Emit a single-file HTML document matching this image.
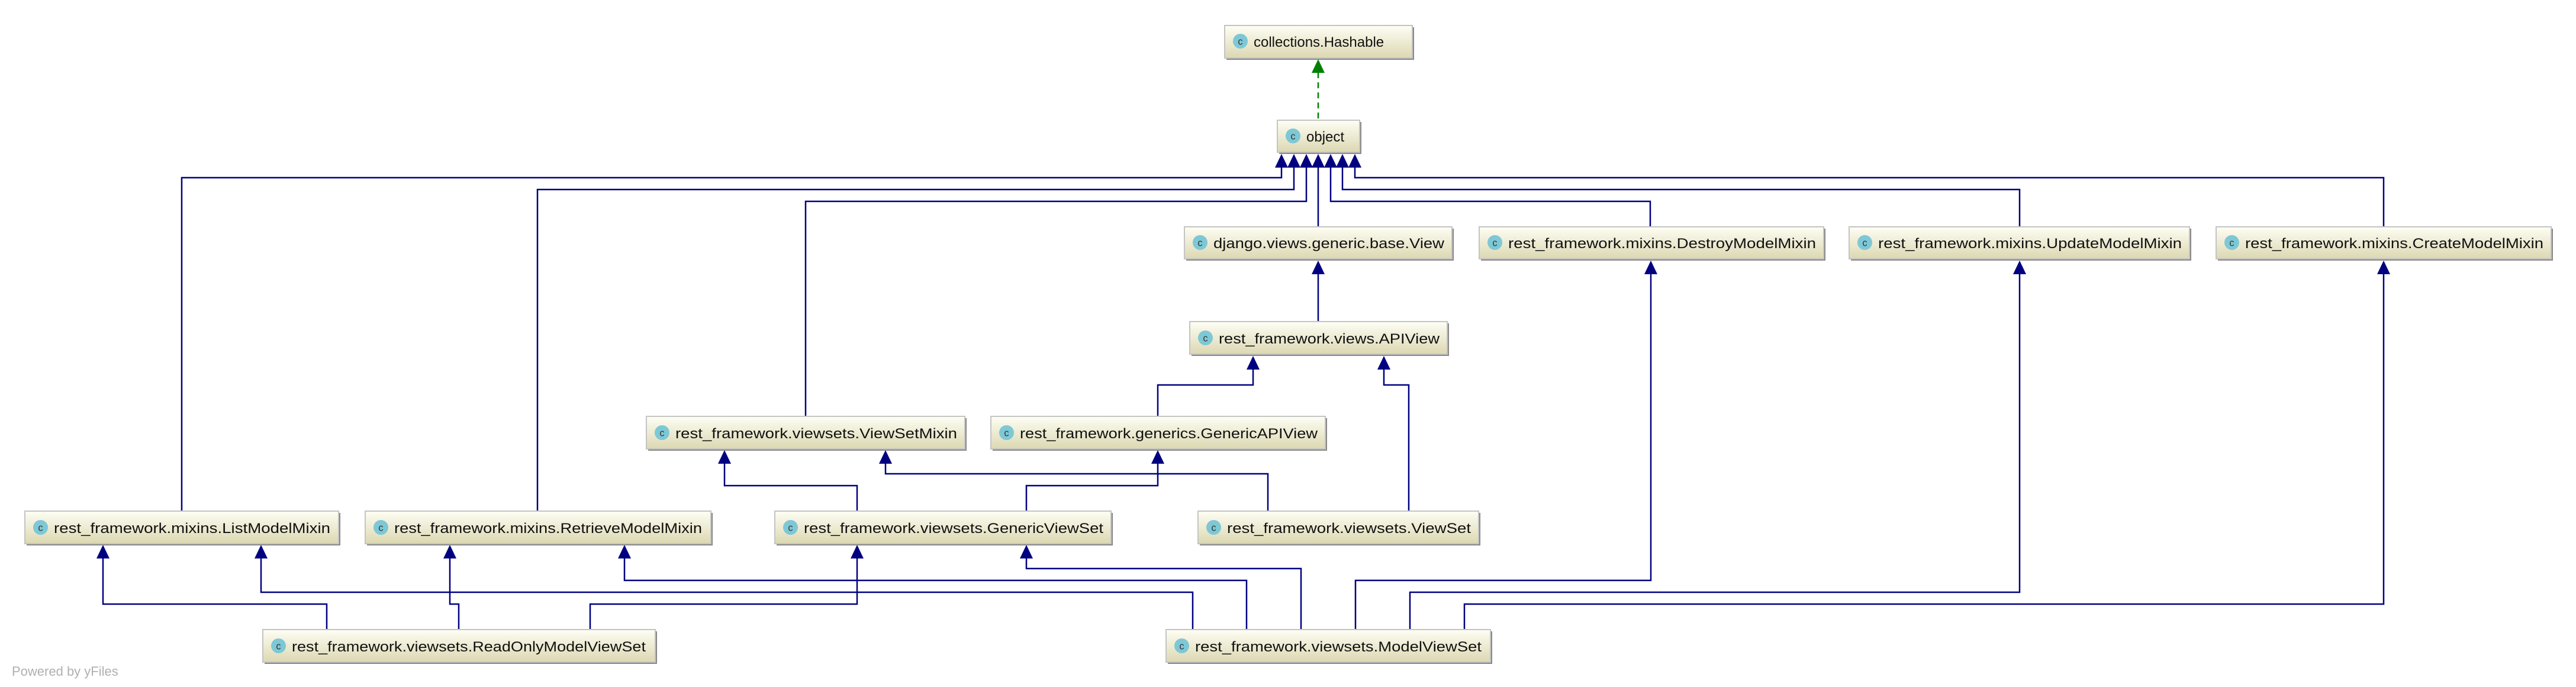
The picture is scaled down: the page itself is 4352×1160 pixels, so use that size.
<!DOCTYPE html>
<html><head><meta charset="utf-8"><style>
html,body{margin:0;padding:0;background:#fff;width:4352px;height:1160px;overflow:hidden}
svg{display:block}
text{font-family:"Liberation Sans","DejaVu Sans",sans-serif}
</style></head><body>
<svg width="4352" height="1160" viewBox="0 0 4352 1160" xmlns="http://www.w3.org/2000/svg">
<defs>
<linearGradient id="g" x1="0" y1="0" x2="0" y2="1">
<stop offset="0" stop-color="#fefef4"/><stop offset="1" stop-color="#dcd8b2"/>
</linearGradient>
<symbol id="ic" viewBox="0 0 28 28"><circle cx="14" cy="14" r="13" fill="#7ec8d6"/><text x="14" y="20" font-size="17" text-anchor="middle" fill="#333">c</text></symbol>
</defs>
<g fill="none" stroke="#000080" stroke-width="2.5">
<polyline points="307,863 307,300 2165,300 2165,282"/>
<polyline points="908,863 908,320 2186,320 2186,282"/>
<polyline points="1361,703 1361,340 2207,340 2207,282"/>
<polyline points="2227,383 2227,282"/>
<polyline points="2788,383 2788,340 2248,340 2248,282"/>
<polyline points="3412,383 3412,320 2268,320 2268,282"/>
<polyline points="4027,383 4027,300 2289,300 2289,282"/>
<polyline points="2227,543 2227,462"/>
<polyline points="1956,703 1956,650 2117,650 2117,623"/>
<polyline points="2380,863 2380,650 2338,650 2338,623"/>
<polyline points="1448,863 1448,820 1224,820 1224,782"/>
<polyline points="1734,863 1734,820 1956,820 1956,782"/>
<polyline points="2142,863 2142,800 1496,800 1496,782"/>
<polyline points="552,1063 552,1020 174,1020 174,942"/>
<polyline points="775,1063 775,1020 760,1020 760,942"/>
<polyline points="997,1063 997,1020 1448,1020 1448,942"/>
<polyline points="2015,1063 2015,1000 441,1000 441,942"/>
<polyline points="2106,1063 2106,980 1055,980 1055,942"/>
<polyline points="2198,1063 2198,960 1734,960 1734,942"/>
<polyline points="2290,1063 2290,980 2789,980 2789,462"/>
<polyline points="2382,1063 2382,1000 3412,1000 3412,462"/>
<polyline points="2474,1063 2474,1020 4027,1020 4027,462"/>
</g>
<g fill="#000080">
<polygon points="2154,283 2176,283 2165,260"/>
<polygon points="2175,283 2197,283 2186,260"/>
<polygon points="2196,283 2218,283 2207,260"/>
<polygon points="2216,283 2238,283 2227,260"/>
<polygon points="2237,283 2259,283 2248,260"/>
<polygon points="2257,283 2279,283 2268,260"/>
<polygon points="2278,283 2300,283 2289,260"/>
<polygon points="2216,463 2238,463 2227,440"/>
<polygon points="2106,624 2128,624 2117,601"/>
<polygon points="2327,624 2349,624 2338,601"/>
<polygon points="1213,783 1235,783 1224,760"/>
<polygon points="1485,783 1507,783 1496,760"/>
<polygon points="1945,783 1967,783 1956,760"/>
<polygon points="163,943 185,943 174,920"/>
<polygon points="430,943 452,943 441,920"/>
<polygon points="749,943 771,943 760,920"/>
<polygon points="1044,943 1066,943 1055,920"/>
<polygon points="1437,943 1459,943 1448,920"/>
<polygon points="1723,943 1745,943 1734,920"/>
<polygon points="2778,463 2800,463 2789,440"/>
<polygon points="3401,463 3423,463 3412,440"/>
<polygon points="4016,463 4038,463 4027,440"/>
</g>
<line x1="2227" y1="200" x2="2227" y2="122" stroke="#008000" stroke-width="2.5" stroke-dasharray="10,7"/>
<polygon points="2216,123 2238,123 2227,100" fill="#008000"/>
<g id="boxes">
<g font-size="24" fill="#111">
<!-- box template: shadow, body, icon, text -->
<rect x="2072" y="46" width="317" height="55" fill="#888"/><rect x="2069" y="43" width="317" height="55" fill="url(#g)" stroke="#c4c4c4" stroke-width="2"/><use href="#ic" x="2082" y="56" width="27" height="27"/><text x="2118" y="79">collections.Hashable</text>
<rect x="2161" y="206" width="139" height="54" fill="#888"/><rect x="2158" y="203" width="139" height="54" fill="url(#g)" stroke="#c4c4c4" stroke-width="2"/><use href="#ic" x="2171" y="216" width="27" height="27"/><text x="2207" y="239">object</text>
<rect x="2004" y="386" width="452" height="54" fill="#888"/><rect x="2001" y="383" width="452" height="54" fill="url(#g)" stroke="#c4c4c4" stroke-width="2"/><use href="#ic" x="2014" y="396" width="27" height="27"/><text x="2050" y="419" textLength="390" lengthAdjust="spacingAndGlyphs">django.views.generic.base.View</text>
<rect x="2502" y="386" width="582" height="54" fill="#888"/><rect x="2499" y="383" width="582" height="54" fill="url(#g)" stroke="#c4c4c4" stroke-width="2"/><use href="#ic" x="2512" y="396" width="27" height="27"/><text x="2548" y="419" textLength="520" lengthAdjust="spacingAndGlyphs">rest_framework.mixins.DestroyModelMixin</text>
<rect x="3127" y="386" width="575" height="54" fill="#888"/><rect x="3124" y="383" width="575" height="54" fill="url(#g)" stroke="#c4c4c4" stroke-width="2"/><use href="#ic" x="3137" y="396" width="27" height="27"/><text x="3173" y="419" textLength="513" lengthAdjust="spacingAndGlyphs">rest_framework.mixins.UpdateModelMixin</text>
<rect x="3747" y="386" width="566" height="54" fill="#888"/><rect x="3744" y="383" width="566" height="54" fill="url(#g)" stroke="#c4c4c4" stroke-width="2"/><use href="#ic" x="3757" y="396" width="27" height="27"/><text x="3793" y="419" textLength="504" lengthAdjust="spacingAndGlyphs">rest_framework.mixins.CreateModelMixin</text>
<rect x="2013" y="546" width="435" height="55" fill="#888"/><rect x="2010" y="543" width="435" height="55" fill="url(#g)" stroke="#c4c4c4" stroke-width="2"/><use href="#ic" x="2023" y="557" width="27" height="27"/><text x="2059" y="580" textLength="373" lengthAdjust="spacingAndGlyphs">rest_framework.views.APIView</text>
<rect x="1095" y="706" width="538" height="55" fill="#888"/><rect x="1092" y="703" width="538" height="55" fill="url(#g)" stroke="#c4c4c4" stroke-width="2"/><use href="#ic" x="1105" y="717" width="27" height="27"/><text x="1141" y="740" textLength="476" lengthAdjust="spacingAndGlyphs">rest_framework.viewsets.ViewSetMixin</text>
<rect x="1677" y="706" width="565" height="55" fill="#888"/><rect x="1674" y="703" width="565" height="55" fill="url(#g)" stroke="#c4c4c4" stroke-width="2"/><use href="#ic" x="1687" y="717" width="27" height="27"/><text x="1723" y="740" textLength="503" lengthAdjust="spacingAndGlyphs">rest_framework.generics.GenericAPIView</text>
<rect x="45" y="866" width="530" height="55" fill="#888"/><rect x="42" y="863" width="530" height="55" fill="url(#g)" stroke="#c4c4c4" stroke-width="2"/><use href="#ic" x="55" y="877" width="27" height="27"/><text x="91" y="900" textLength="467" lengthAdjust="spacingAndGlyphs">rest_framework.mixins.ListModelMixin</text>
<rect x="620" y="866" width="584" height="55" fill="#888"/><rect x="617" y="863" width="584" height="55" fill="url(#g)" stroke="#c4c4c4" stroke-width="2"/><use href="#ic" x="630" y="877" width="27" height="27"/><text x="666" y="900" textLength="520" lengthAdjust="spacingAndGlyphs">rest_framework.mixins.RetrieveModelMixin</text>
<rect x="1312" y="866" width="568" height="55" fill="#888"/><rect x="1309" y="863" width="568" height="55" fill="url(#g)" stroke="#c4c4c4" stroke-width="2"/><use href="#ic" x="1322" y="877" width="27" height="27"/><text x="1358" y="900" textLength="506" lengthAdjust="spacingAndGlyphs">rest_framework.viewsets.GenericViewSet</text>
<rect x="2027" y="866" width="474" height="55" fill="#888"/><rect x="2024" y="863" width="474" height="55" fill="url(#g)" stroke="#c4c4c4" stroke-width="2"/><use href="#ic" x="2037" y="877" width="27" height="27"/><text x="2073" y="900" textLength="412" lengthAdjust="spacingAndGlyphs">rest_framework.viewsets.ViewSet</text>
<rect x="447" y="1066" width="663" height="55" fill="#888"/><rect x="444" y="1063" width="663" height="55" fill="url(#g)" stroke="#c4c4c4" stroke-width="2"/><use href="#ic" x="457" y="1077" width="27" height="27"/><text x="493" y="1100" textLength="598" lengthAdjust="spacingAndGlyphs">rest_framework.viewsets.ReadOnlyModelViewSet</text>
<rect x="1973" y="1066" width="548" height="55" fill="#888"/><rect x="1970" y="1063" width="548" height="55" fill="url(#g)" stroke="#c4c4c4" stroke-width="2"/><use href="#ic" x="1983" y="1077" width="27" height="27"/><text x="2019" y="1100" textLength="484" lengthAdjust="spacingAndGlyphs">rest_framework.viewsets.ModelViewSet</text>
</g>
</g>
<text x="20" y="1141" font-size="22" fill="#b0b0b0">Powered by yFiles</text>
</svg>
</body></html>
